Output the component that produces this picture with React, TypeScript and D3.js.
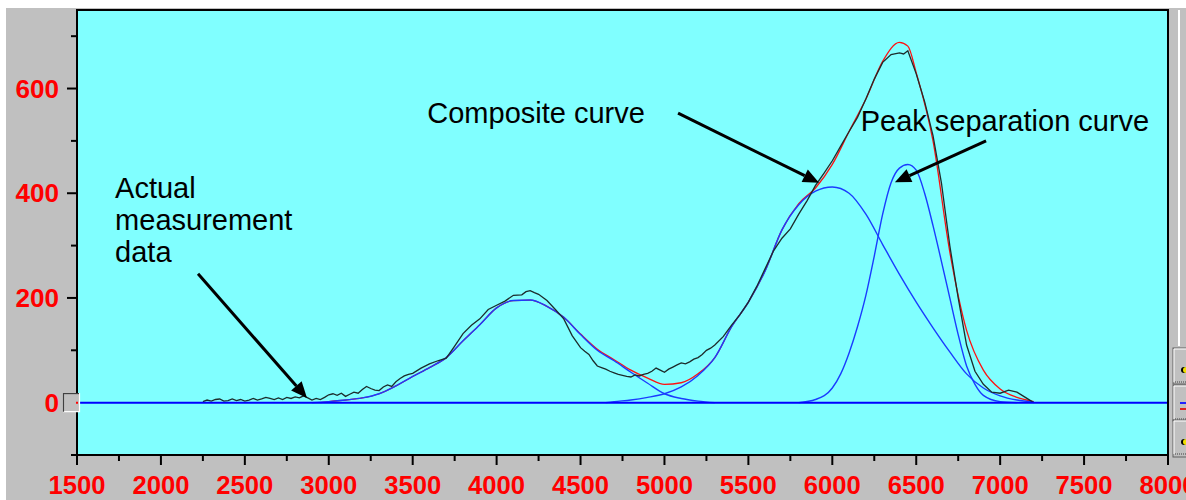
import React from 'react'
import * as d3 from 'd3'

const W = 1186
const H = 500
const margin = { top: 10, right: 18, bottom: 45, left: 77 }

const xTickValues = [1500, 2000, 2500, 3000, 3500, 4000, 4500, 5000, 5500, 6000, 6500, 7000, 7500, 8000]
const yTickValues = [0, 200, 400, 600]
const yMinorTicks = [-100, 100, 300, 500, 700]

// actual measurement data (noisy black trace)
const measured: [number, number][] = [
  [2250, 2], [2275, 5], [2300, 3], [2325, 6], [2350, 7], [2375, 3], [2400, 4], [2425, 7], [2450, 4],
  [2475, 6], [2500, 3], [2525, 5], [2550, 8], [2575, 5], [2600, 7], [2625, 10], [2650, 8], [2675, 6],
  [2700, 9], [2725, 6], [2750, 10], [2775, 8], [2800, 11], [2825, 9], [2850, 13], [2875, 9], [2900, 5],
  [2925, 8], [2950, 6], [2975, 10], [3000, 15], [3025, 17], [3050, 14], [3075, 18], [3100, 12],
  [3125, 16], [3150, 20], [3175, 18], [3200, 25], [3225, 31], [3250, 27], [3275, 24], [3300, 23],
  [3325, 30], [3350, 34], [3375, 31], [3400, 40], [3425, 46], [3450, 51], [3475, 54], [3500, 56],
  [3550, 66], [3600, 74], [3650, 80], [3700, 85], [3750, 108], [3800, 132], [3850, 148], [3900, 160],
  [3950, 178], [4000, 186], [4050, 194], [4100, 205], [4150, 206], [4175, 212], [4200, 214], [4225, 210],
  [4250, 207], [4300, 195], [4350, 178], [4400, 160], [4450, 128], [4500, 105], [4525, 98], [4550, 92],
  [4575, 80], [4600, 70], [4625, 67], [4650, 64], [4675, 60], [4700, 57], [4725, 54], [4750, 52],
  [4775, 50], [4800, 49], [4825, 53], [4850, 51], [4875, 54], [4900, 56], [4925, 60], [4950, 66],
  [4975, 62], [5000, 58], [5025, 64], [5050, 68], [5075, 72], [5100, 76], [5125, 74], [5150, 78],
  [5175, 83], [5200, 86], [5225, 92], [5250, 100], [5275, 104], [5300, 110], [5350, 126], [5400, 148],
  [5450, 168], [5500, 192], [5550, 222], [5600, 256], [5650, 290], [5700, 314], [5750, 332], [5800, 360],
  [5850, 386], [5900, 415], [5950, 438], [6000, 462], [6050, 490], [6100, 518], [6150, 545], [6200, 580],
  [6250, 618], [6300, 650], [6350, 665], [6400, 668], [6425, 666], [6450, 672], [6500, 628], [6550, 575],
  [6600, 510], [6650, 420], [6700, 300], [6750, 200], [6800, 110], [6850, 60], [6900, 35], [6950, 20],
  [7000, 18], [7050, 24], [7100, 20], [7150, 10], [7200, 0]
]

// composite (fitted) curve
const composite: [number, number][] = [
  [2950, 0], [3000, 2], [3100, 5], [3200, 9], [3300, 17], [3400, 32], [3500, 50], [3600, 67], [3700, 86],
  [3800, 118], [3900, 149], [4000, 181], [4100, 195], [4200, 196], [4300, 184], [4400, 163], [4500, 131],
  [4600, 102], [4700, 82], [4800, 62], [4900, 47], [5000, 35], [5100, 38], [5200, 55], [5300, 86],
  [5400, 145], [5500, 192], [5600, 252], [5700, 330], [5800, 380], [5900, 410], [6000, 455], [6100, 518],
  [6200, 580], [6300, 652], [6400, 688], [6450, 681], [6500, 630], [6600, 500], [6700, 288], [6800, 138],
  [6900, 62], [7000, 26], [7100, 10], [7200, 2]
]

// separated peaks
const peak1: [number, number][] = [
  [2900, 0], [3000, 2], [3100, 5], [3200, 9], [3300, 17], [3400, 32], [3500, 50], [3600, 67], [3700, 86],
  [3800, 118], [3900, 149], [4000, 181], [4100, 195], [4200, 196], [4300, 184], [4400, 163], [4500, 130],
  [4600, 100], [4700, 80], [4800, 58], [4900, 37], [5000, 17], [5100, 8], [5200, 3], [5300, 0]
]
const peak2: [number, number][] = [
  [4650, 0], [4700, 2], [4800, 5], [4900, 10], [5000, 17], [5100, 30], [5200, 52], [5300, 86], [5400, 145],
  [5500, 192], [5600, 252], [5700, 330], [5800, 378], [5900, 404], [6000, 412], [6100, 400], [6200, 360],
  [6300, 302], [6400, 245], [6500, 192], [6600, 143], [6700, 97], [6800, 55], [6900, 28], [7000, 13],
  [7100, 5], [7200, 1]
]
const peak3: [number, number][] = [
  [5800, 0], [5900, 6], [6000, 28], [6050, 55], [6100, 95], [6150, 145], [6200, 205], [6250, 280],
  [6300, 360], [6350, 420], [6400, 448], [6450, 455], [6500, 444], [6550, 400], [6600, 338], [6650, 270],
  [6700, 200], [6750, 130], [6800, 70], [6850, 35], [6900, 14], [7000, 2], [7100, 0]
]

const arrows = [
  { from: [2221, 246], to: [2870, 9] },
  { from: [5081, 553], to: [5921, 420] },
  { from: [6916, 500], to: [6373, 421] }
]
const notes = [
  { lines: ['Actual', 'measurement', 'data'], at: [1727, 390] },
  { lines: ['Composite curve'], at: [3587, 535] },
  { lines: ['Peak separation curve'], at: [6169, 518] }
]

const font = 'Arial, "Liberation Sans", sans-serif'

export default function App () {
  const x = d3.scaleLinear().domain([1500, 8000]).range([margin.left, W - margin.right])
  const y = d3.scaleLinear().domain([-100, 750]).range([H - margin.bottom, margin.top])
  const smooth = d3.line<[number, number]>().x(d => x(d[0])).y(d => y(d[1])).curve(d3.curveMonotoneX)
  const raw = d3.line<[number, number]>().x(d => x(d[0])).y(d => y(d[1]))
  const x0 = x(1500), x1 = x(8000), yTop = y(750), yBot = y(-100)
  const minorX = d3.range(1750, 8000, 500)

  return (
    <svg width={W} height={H} style={{ position: 'absolute', left: 0, top: 0 }}>
      <rect x={0} y={0} width={W} height={H} fill='#ffffff' />
      <rect x={6} y={8} width={W - 6} height={H - 8} fill='#c0c0c0' />
      <rect x={x0} y={yTop} width={x1 - x0} height={yBot - yTop} fill='#80ffff' />
      {/* right side strip + small legend boxes */}
      <line x1={1179} x2={1179} y1={yTop} y2={346} stroke='#ffffff' strokeWidth={2} />
      {[348, 385, 420].map((b, i) => (
        <g key={i}>
          <rect x={1173} y={b} width={16} height={i === 2 ? 37 : 36} fill='#c0c0c0' stroke='#606060' strokeWidth={1} />
          <line x1={1174} x2={1186} y1={b + 1} y2={b + 1} stroke='#ffffff' />
          <line x1={1174} x2={1174} y1={b + 1} y2={b + 34} stroke='#ffffff' />
          {i === 1
            ? <g><line x1={1180} x2={1186} y1={b + 18} y2={b + 18} stroke='#2020ff' strokeWidth={2} /><line x1={1180} x2={1186} y1={b + 24} y2={b + 24} stroke='#e02020' strokeWidth={2} /></g>
            : <g><circle cx={1184} cy={b + 22} r={3} fill='#000000' /><circle cx={1186} cy={b + 22} r={3} fill='#f0e000' /></g>}
          <line x1={1175} x2={1186} y1={b + 34} y2={b + 34} stroke='#404040' strokeDasharray='1 1' />
        </g>
      ))}

      {/* curves */}
      <path d={smooth(composite) || ''} fill='none' stroke='#ff1010' strokeWidth={1.3} />
      {[peak1, peak2, peak3].map((p, i) => (
        <path key={i} d={smooth(p) || ''} fill='none' stroke='#1a3cff' strokeWidth={1.4} />
      ))}
      <path d={raw(measured) || ''} fill='none' stroke='#1c2c2c' strokeWidth={1.3} />
      <line x1={x0} x2={x1} y1={y(0)} y2={y(0)} stroke='#0000ff' strokeWidth={2} />

      {/* plot frame */}
      <rect x={x0} y={yTop} width={x1 - x0} height={yBot - yTop} fill='none' stroke='#000000' strokeWidth={2} />

      {/* y axis */}
      {yTickValues.map(v => (
        <g key={v}>
          <line x1={x0 - 10} x2={x0} y1={y(v)} y2={y(v)} stroke='#000' strokeWidth={2} />
          <text x={59} y={y(v) + 9} textAnchor='end' fontFamily={font} fontWeight='bold' fontSize={25}
            fill='#ff0000' textLength={String(v).length * 14.5} lengthAdjust='spacingAndGlyphs'>{v}</text>
        </g>
      ))}
      {yMinorTicks.map(v => (
        <line key={v} x1={x0 - 6} x2={x0} y1={y(v)} y2={y(v)} stroke='#000' strokeWidth={2} />
      ))}
      {/* small handle at zero */}
      <rect x={63.5} y={y(0) - 9} width={16} height={18} fill='#c0c0c0' stroke='#ffffff' strokeWidth={1.2} />
      <path d={`M${63.5},${y(0) + 9} V${y(0) - 9} H${79}`} fill='none' stroke='#404040' strokeWidth={1.2} />
      <line x1={x0 - 1} x2={x0 + 1} y1={y(0)} y2={y(0)} stroke='#ff0000' strokeWidth={2} />

      {/* x axis */}
      {xTickValues.map(v => (
        <g key={v}>
          <line x1={x(v)} x2={x(v)} y1={yBot} y2={yBot + 10} stroke='#000' strokeWidth={2} />
          <text x={x(v)} y={494} textAnchor='middle' fontFamily={font} fontWeight='bold' fontSize={25}
            fill='#ff0000' textLength={String(v).length * 14.25} lengthAdjust='spacingAndGlyphs'>{v}</text>
        </g>
      ))}
      {minorX.map(v => (
        <line key={v} x1={x(v)} x2={x(v)} y1={yBot} y2={yBot + 6} stroke='#000' strokeWidth={2} />
      ))}

      {/* annotations */}
      {arrows.map((a, i) => {
        const sx = x(a.from[0]), sy = y(a.from[1]), tx = x(a.to[0]), ty = y(a.to[1])
        const ang = Math.atan2(ty - sy, tx - sx)
        const hl = 16, hw = 7
        const bx = tx - hl * Math.cos(ang), by = ty - hl * Math.sin(ang)
        const px = -Math.sin(ang) * hw, py = Math.cos(ang) * hw
        return (
          <g key={i}>
            <line x1={sx} y1={sy} x2={bx} y2={by} stroke='#000' strokeWidth={3} />
            <polygon points={`${tx},${ty} ${bx + px},${by + py} ${bx - px},${by - py}`} fill='#000' />
          </g>
        )
      })}
      {notes.map((n, i) => (
        <text key={i} x={x(n.at[0])} y={y(n.at[1])} fontFamily={font} fontSize={29} fill='#000'>
          {n.lines.map((l, j) => (
            <tspan key={j} x={x(n.at[0])} dy={j === 0 ? 0 : 32}>{l}</tspan>
          ))}
        </text>
      ))}
    </svg>
  )
}
